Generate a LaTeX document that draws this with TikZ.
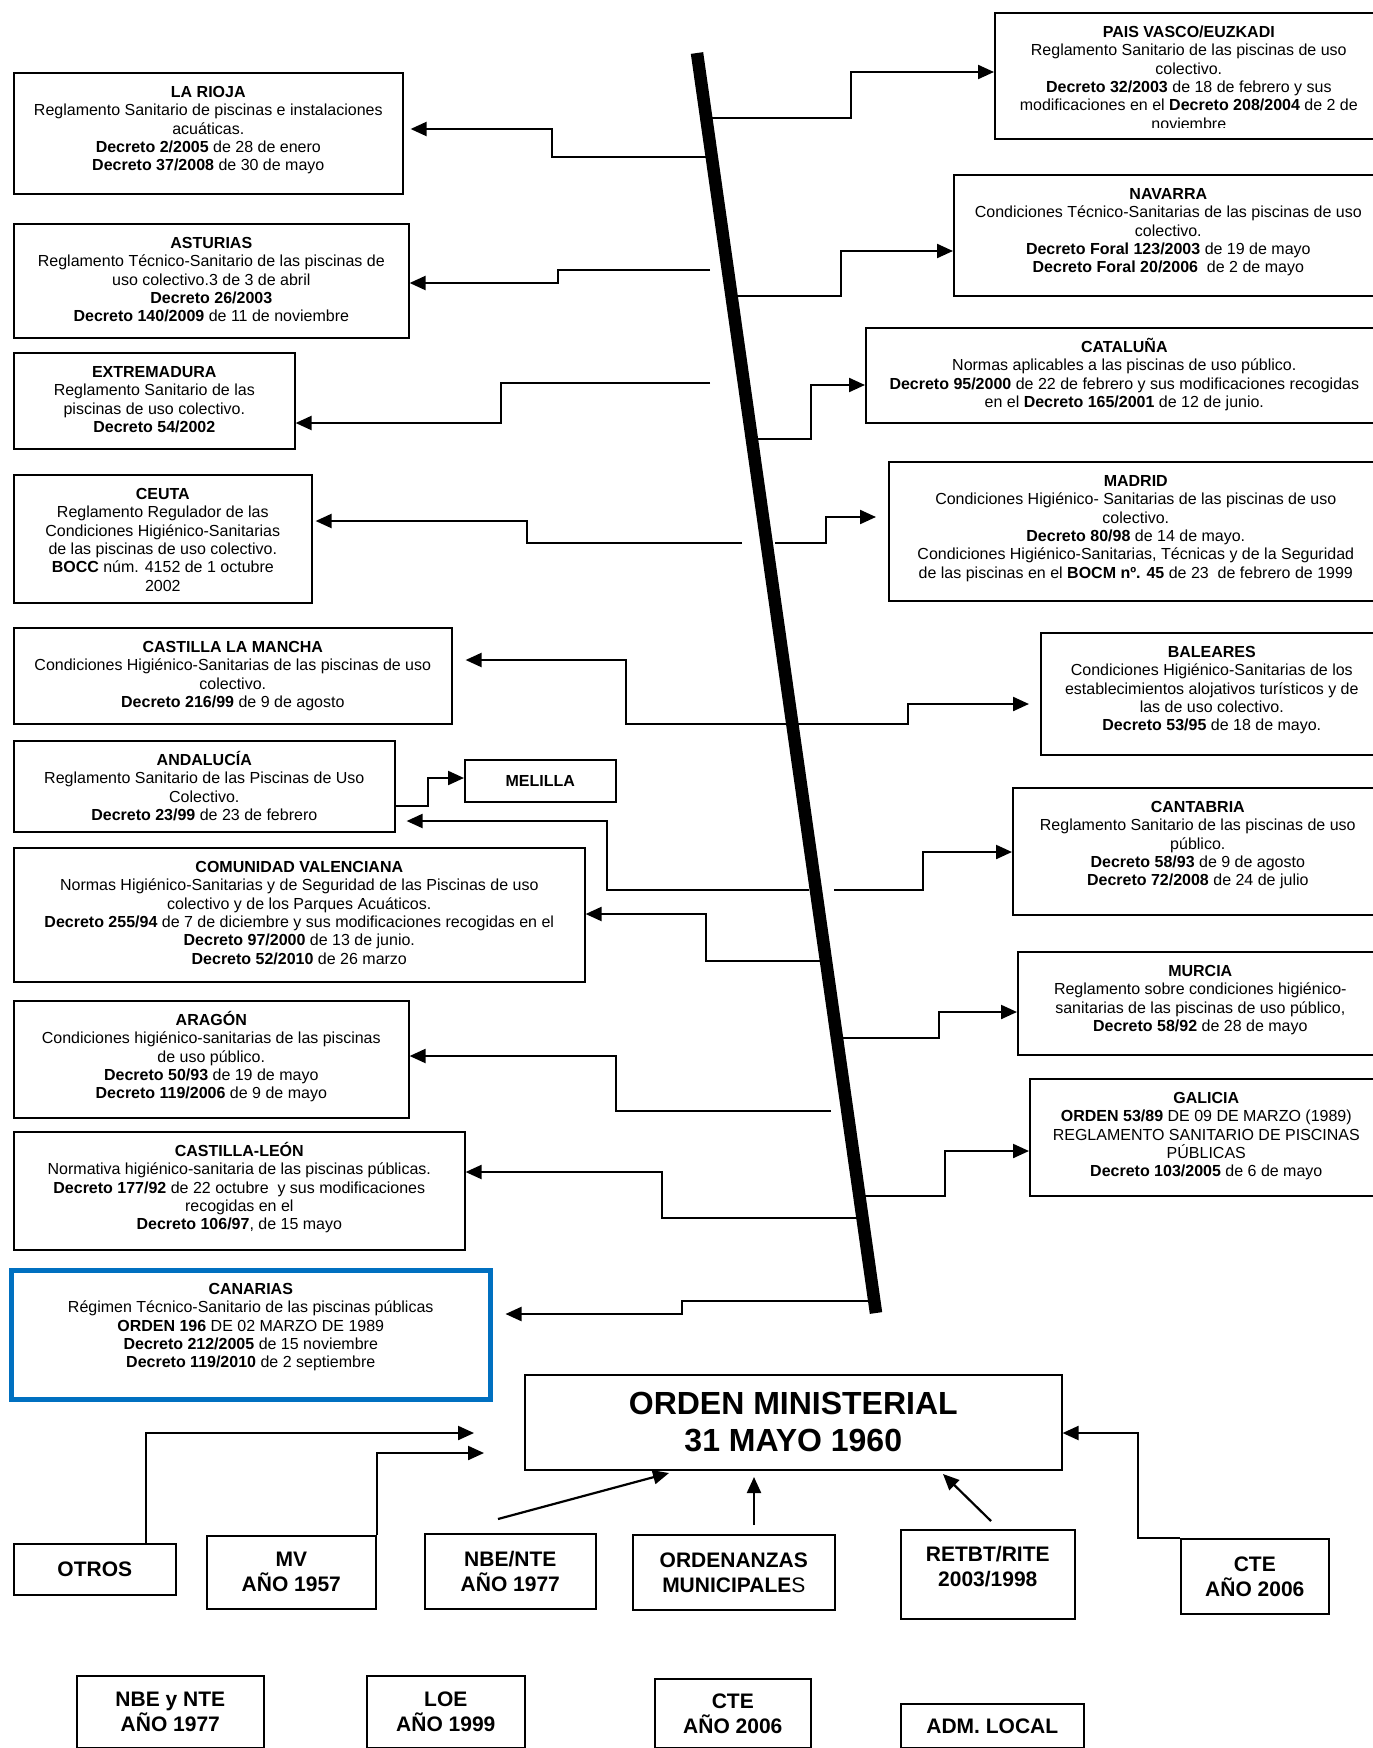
\documentclass[tikz,border=0pt]{standalone}
\usepackage{fontspec}
\setmainfont{Liberation Sans}
\usetikzlibrary{arrows.meta}
\definecolor{canblue}{RGB}{0,112,192}
\tikzset{
 bx/.style={draw=black, line width=1.6pt, inner sep=0pt, anchor=north west},
 txt/.style={align=center, inner sep=0pt, anchor=north, font=\fontsize{16}{18.4}\selectfont},
 conn/.style={line width=2.2pt, -{Triangle[length=16pt,width=14pt]}},
 big/.style={align=center, inner sep=0pt, font=\fontsize{21}{25}\selectfont\bfseries},
 huge/.style={align=center, inner sep=0pt, font=\fontsize{32}{37}\selectfont\bfseries},
 spine/.style={line width=12.5pt, line cap=butt},
}
\newcommand\mkbox[6][]{\node[bx,#1,minimum width={#5-#3},minimum height={#6-#4}] (#2) at (#3,#4) {};}
\newcommand\fl{\rule{0pt}{14pt}}
\begin{document}
\begin{tikzpicture}[x=1pt,y=-1pt]
\useasboundingbox (0,0) rectangle (1373,1748);
% boxes
\mkbox{pais}{994}{12}{1382}{138}
\mkbox{rioja}{13}{72}{402}{193}
\mkbox{navarra}{953}{174}{1382}{295}
\mkbox{asturias}{13}{223}{408}{337}
\mkbox{cataluna}{865}{327}{1382}{422}
\mkbox{extrem}{13}{352}{294}{448}
\mkbox{madrid}{888}{461}{1382}{600}
\mkbox{ceuta}{13}{474}{311}{602}
\mkbox{clm}{13}{627}{451}{723}
\mkbox{baleares}{1040}{632}{1382}{754}
\mkbox{andalucia}{13}{740}{394}{831}
\mkbox{melilla}{464}{759}{615}{801}
\mkbox{cantabria}{1012}{787}{1382}{914}
\mkbox{comval}{13}{847}{584}{981}
\mkbox{murcia}{1017}{951}{1382}{1054}
\mkbox{aragon}{13}{1000}{408}{1117}
\mkbox{galicia}{1029}{1078}{1382}{1195}
\mkbox{cleon}{13}{1131}{464}{1249}
\mkbox[draw=canblue,line width=4.5pt]{canarias}{9}{1268}{488}{1397}
\mkbox{orden}{524}{1374}{1061}{1469}
\mkbox{otros}{13}{1543}{175}{1594}
\mkbox{mv}{206}{1535}{375}{1608}
\mkbox{nbe}{424}{1533}{595}{1608}
\mkbox{ordz}{632}{1534}{834}{1609}
\mkbox{retbt}{900}{1529}{1074}{1618}
\mkbox{cte}{1180}{1538}{1328}{1613}
\mkbox{nbetwo}{76}{1675}{263}{1747}
\mkbox{loe}{366}{1675}{524}{1747}
\mkbox{ctetwo}{654}{1678}{810}{1747}
\mkbox{adm}{900}{1703}{1083}{1747}
% texts
\begin{scope}
\clip (994,12) rectangle (1382,127);
\node[txt,yshift=-11pt] (paisT) at (pais.north) {\fl\textbf{PAIS VASCO/EUZKADI}\\Reglamento Sanitario de las piscinas de uso\\colectivo.\\\textbf{Decreto 32/2003} de 18 de febrero y sus\\modificaciones en el \textbf{Decreto 208/2004} de 2 de\\noviembre};
\end{scope}
\node[txt,yshift=-11pt] (riojaT) at (rioja.north) {\fl\textbf{LA RIOJA}\\Reglamento Sanitario de piscinas e instalaciones\\acuáticas.\\\textbf{Decreto 2/2005} de 28 de enero\\\textbf{Decreto 37/2008} de 30 de mayo};
\node[txt,yshift=-11pt] (navarraT) at (navarra.north) {\fl\textbf{NAVARRA}\\Condiciones Técnico-Sanitarias de las piscinas de uso\\colectivo.\\\textbf{Decreto Foral 123/2003} de 19 de mayo\\\textbf{Decreto Foral 20/2006}\ \ de 2 de mayo};
\node[txt,yshift=-11pt] (asturiasT) at (asturias.north) {\fl\textbf{ASTURIAS}\\Reglamento Técnico-Sanitario de las piscinas de\\uso colectivo.3 de 3 de abril\\\textbf{Decreto 26/2003}\\\textbf{Decreto 140/2009} de 11 de noviembre};
\node[txt,yshift=-11pt] (catalunaT) at (cataluna.north) {\fl\textbf{CATALUÑA}\\Normas aplicables a las piscinas de uso público.\\\textbf{Decreto 95/2000} de 22 de febrero y sus modificaciones recogidas\\en el \textbf{Decreto 165/2001} de 12 de junio.};
\node[txt,yshift=-11pt] (extremT) at (extrem.north) {\fl\textbf{EXTREMADURA}\\Reglamento Sanitario de las\\piscinas de uso colectivo.\\\textbf{Decreto 54/2002}};
\node[txt,yshift=-11pt] (madridT) at (madrid.north) {\fl\textbf{MADRID}\\Condiciones Higiénico- Sanitarias de las piscinas de uso\\colectivo.\\\textbf{Decreto 80/98} de 14 de mayo.\\Condiciones Higiénico-Sanitarias, Técnicas y de la Seguridad\\de las piscinas en el \textbf{BOCM nº. 45} de 23\ \ de febrero de 1999};
\node[txt,yshift=-11pt] (ceutaT) at (ceuta.north) {\fl\textbf{CEUTA}\\Reglamento Regulador de las\\Condiciones Higiénico-Sanitarias\\de las piscinas de uso colectivo.\\\textbf{BOCC} núm. 4152 de 1 octubre\\2002};
\node[txt,yshift=-11pt] (clmT) at (clm.north) {\fl\textbf{CASTILLA LA MANCHA}\\Condiciones Higiénico-Sanitarias de las piscinas de uso\\colectivo.\\\textbf{Decreto 216/99} de 9 de agosto};
\node[txt,yshift=-11pt] (balearesT) at (baleares.north) {\fl\textbf{BALEARES}\\Condiciones Higiénico-Sanitarias de los\\establecimientos alojativos turísticos y de\\las de uso colectivo.\\\textbf{Decreto 53/95} de 18 de mayo.};
\node[txt,yshift=-11pt] (andaluciaT) at (andalucia.north) {\fl\textbf{ANDALUCÍA}\\Reglamento Sanitario de las Piscinas de Uso\\Colectivo.\\\textbf{Decreto 23/99} de 23 de febrero};
\node[txt,font=\fontsize{16}{18.4}\selectfont\bfseries,anchor=center] (melillaT) at (melilla.center) {MELILLA};
\node[txt,yshift=-11pt] (cantabriaT) at (cantabria.north) {\fl\textbf{CANTABRIA}\\Reglamento Sanitario de las piscinas de uso\\público.\\\textbf{Decreto 58/93} de 9 de agosto\\\textbf{Decreto 72/2008} de 24 de julio};
\node[txt,yshift=-11pt] (comvalT) at (comval.north) {\fl\textbf{COMUNIDAD VALENCIANA}\\Normas Higiénico-Sanitarias y de Seguridad de las Piscinas de uso\\colectivo y de los Parques Acuáticos.\\\textbf{Decreto 255/94} de 7 de diciembre y sus modificaciones recogidas en el\\\textbf{Decreto 97/2000} de 13 de junio.\\\textbf{Decreto 52/2010} de 26 marzo};
\node[txt,yshift=-11pt] (murciaT) at (murcia.north) {\fl\textbf{MURCIA}\\Reglamento sobre condiciones higiénico-\\sanitarias de las piscinas de uso público,\\\textbf{Decreto 58/92} de 28 de mayo};
\node[txt,yshift=-11pt] (aragonT) at (aragon.north) {\fl\textbf{ARAGÓN}\\Condiciones higiénico-sanitarias de las piscinas\\de uso público.\\\textbf{Decreto 50/93} de 19 de mayo\\\textbf{Decreto 119/2006} de 9 de mayo};
\node[txt,yshift=-11pt] (galiciaT) at (galicia.north) {\fl\textbf{GALICIA}\\\textbf{ORDEN 53/89} DE 09 DE MARZO (1989)\\REGLAMENTO SANITARIO DE PISCINAS\\PÚBLICAS\\\textbf{Decreto 103/2005} de 6 de mayo};
\node[txt,yshift=-11pt] (cleonT) at (cleon.north) {\fl\textbf{CASTILLA-LEÓN}\\Normativa higiénico-sanitaria de las piscinas públicas.\\\textbf{Decreto 177/92} de 22 octubre\ \ y sus modificaciones\\recogidas en el\\\textbf{Decreto 106/97}, de 15 mayo};
\node[txt,yshift=-12pt] (canariasT) at (canarias.north) {\fl\textbf{CANARIAS}\\Régimen Técnico-Sanitario de las piscinas públicas\\\textbf{ORDEN 196} DE 02 MARZO DE 1989\\\textbf{Decreto 212/2005} de 15 noviembre\\\textbf{Decreto 119/2010} de 2 septiembre};
\node[huge] (ordenT) at (orden.center) {ORDEN MINISTERIAL\\31 MAYO 1960};
\node[big] (otrosT) at (otros.center) {OTROS};
\node[big] (mvT) at (mv.center) {MV\\AÑO 1957};
\node[big] (nbeT) at (nbe.center) {NBE/NTE\\AÑO 1977};
\node[big] (ordzT) at (ordz.center) {ORDENANZAS\\MUNICIPALE{\mdseries S}};
\node[big,yshift=8pt] (retbtT) at (retbt.center) {RETBT/RITE\\2003/1998};
\node[big] (cteT) at (cte.center) {CTE\\AÑO 2006};
\node[big] (nbetwoT) at (nbetwo.center) {NBE y NTE\\AÑO 1977};
\node[big] (loeT) at (loe.center) {LOE\\AÑO 1999};
\node[big] (ctetwoT) at (ctetwo.center) {CTE\\AÑO 2006};
\node[big] (admT) at (adm.center) {ADM. LOCAL};
% spine points
\coordinate (spTop) at (697,53);
\coordinate (spBot) at (876,1313);
\coordinate (sPais) at (706,118);
\coordinate (sRioja) at (712,157);
\coordinate (sAst) at (710,270);
\coordinate (sNav) at (732,296);
\coordinate (sExt) at (710,383);
\coordinate (sCat) at (752,439);
\coordinate (sCeu) at (742,543);
\coordinate (sMad) at (775,543);
\coordinate (sBal) at (793,724);
\coordinate (sAnd) at (809,890);
\coordinate (sCan) at (834,890);
\coordinate (sVal) at (826,961);
\coordinate (sMur) at (838,1038);
\coordinate (sAra) at (831,1111);
\coordinate (sGal) at (860,1196);
\coordinate (sLeo) at (862,1218);
\coordinate (sCnr) at (875,1301);
\coordinate (nbeS) at (498,1519);
\coordinate (nbeE) at (669,1473);
\coordinate (ordzS) at (754,1525);
\coordinate (ordzE) at (754,1477);
\coordinate (retS) at (991,1521);
\coordinate (retE) at (943,1474);
% connectors
\draw[conn] (sPais) -| (851,72) -- (pais.west |- 0,72);
\draw[conn,shorten >=7pt] (sRioja) -| (552,129) -- (rioja.east |- 0,129);
\draw[conn] (sAst) -| (558,283) -- (asturias.east |- 0,283);
\draw[conn] (sNav) -| (841,251) -- (navarra.west |- 0,251);
\draw[conn] (sExt) -| (501,423) -- (extrem.east |- 0,423);
\draw[conn] (sCat) -| (811,385) -- (cataluna.west |- 0,385);
\draw[conn,shorten >=3pt] (sCeu) -| (527,521) -- (ceuta.east |- 0,521);
\draw[conn,shorten >=12pt] (sMad) -| (826,517) -- (madrid.west |- 0,517);
\draw[conn,shorten >=13pt] (sBal) -| (626,660) -- (clm.east |- 0,660);
\draw[conn,shorten >=11pt] (sBal) -| (908,704) -- (baleares.west |- 0,704);
\draw[conn,shorten >=11pt] (sAnd) -| (607,821) -- (andalucia.east |- 0,821);
\draw[conn] (sCan) -| (923,852) -- (cantabria.west |- 0,852);
\draw[conn] (andalucia.east |- 0,806) -| (428,778) -- (melilla.west |- 0,778);
\draw[conn] (sVal) -| (706,914) -- (comval.east |- 0,914);
\draw[conn] (sMur) -| (939,1012) -- (murcia.west |- 0,1012);
\draw[conn] (sAra) -| (616,1056) -- (aragon.east |- 0,1056);
\draw[conn] (sGal) -| (945,1151) -- (galicia.west |- 0,1151);
\draw[conn] (sLeo) -| (662,1172) -- (cleon.east |- 0,1172);
\draw[conn,shorten >=13pt] (sCnr) -| (682,1314) -- (canarias.east |- 0,1314);
\draw[conn,shorten >=50pt] (otros.north -| 146,0) |- (orden.west |- 0,1433);
\draw[conn,shorten >=40pt] (mv.north east) |- (orden.west |- 0,1453);
\draw[conn] (nbeS) -- (nbeE);
\draw[conn] (ordzS) -- (ordzE);
\draw[conn] (retS) -- (retE);
\draw[conn] (cte.north west) -| (1138,1433) -- (orden.east |- 0,1433);
% spine
\draw[spine] (spTop) -- (spBot);
\end{tikzpicture}
\end{document}
